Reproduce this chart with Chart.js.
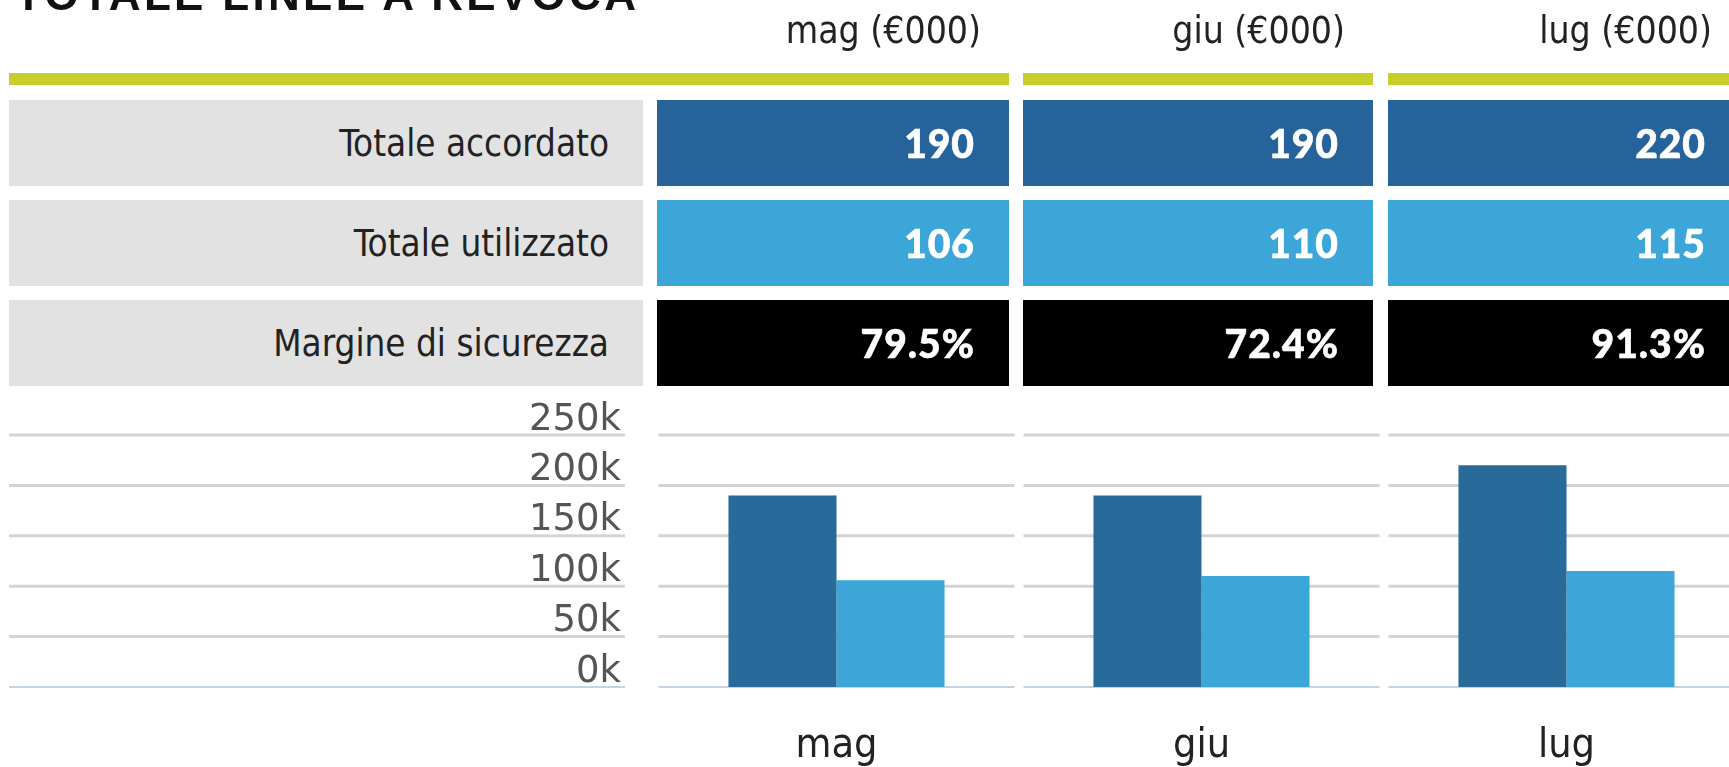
<!DOCTYPE html>
<html>
<head>
<meta charset="utf-8">
<script src="https://cdn.jsdelivr.net/npm/chart.js@4.4.1/dist/chart.umd.min.js"></script>
<style>
  html, body { margin:0; padding:0; background:#ffffff; }
  body { width:1729px; height:767px; overflow:hidden; position:relative; }
  #chartWrap { position:absolute; left:0; top:0; width:1760px; height:767px; }
  .abs { position:absolute; box-sizing:border-box; }
  #title { left:15px; top:-27px; font-family:"Liberation Sans", Arial, sans-serif; font-weight:bold;
           font-size:44px; line-height:44px; letter-spacing:3.3px; color:#111; white-space:nowrap; }
  .hdr { font-family:"DejaVu Sans Condensed","DejaVu Sans",sans-serif; font-size:37px; color:#222;
         text-align:right; padding-right:28px; height:44px; line-height:44px; top:9px; white-space:nowrap; }
  .green { background:#c6cf2c; top:73px; height:12px; }
  .cell { display:flex; align-items:center; justify-content:flex-end; padding-right:34px; height:86px; white-space:nowrap; }
  .lab { background:#e2e2e2; font-family:"DejaVu Sans Condensed","DejaVu Sans",sans-serif; font-size:36.5px; color:#222; }
  .val { font-family:"Lato", sans-serif; font-weight:900; font-size:39px; color:#ffffff;
         letter-spacing:1px; -webkit-text-stroke:0.6px #ffffff; }
</style>
</head>
<body>
<div id="chartWrap"><canvas id="c" width="1760" height="767"></canvas></div>
<div id="title" class="abs">TOTALE LINEE A REVOCA</div>
<div id="table"></div>
<script>
// ---- data ----
const categories = ['mag', 'giu', 'lug'];
const headerSuffix = ' (€000)';
const rowLabels = ['Totale accordato', 'Totale utilizzato', 'Margine di sicurezza'];
const totaleAccordato = [190, 190, 220];      // €000
const totaleUtilizzato = [106, 110, 115];     // €000
const margineSicurezza = [79.5, 72.4, 91.3];  // %
const yTicksMin = 0;
const yTicksMax = 250000;
const yTickStep = 50000;

// ---- table (HTML) ----
const colLeft = [657, 1023, 1388];
const colWidth = [352, 350, 352];
const rowTop = [100, 200, 300];
const rowColors = ['#26639b', '#3ca6d8', '#000000'];
const rowValues = [
  totaleAccordato.map(v => String(v)),
  totaleUtilizzato.map(v => String(v)),
  margineSicurezza.map(v => v.toFixed(1) + '%')
];
const table = document.getElementById('table');
function add(cls, style, text) {
  const d = document.createElement('div');
  d.className = 'abs ' + cls;
  Object.assign(d.style, style);
  if (text !== undefined) d.textContent = text;
  table.appendChild(d);
  return d;
}
categories.forEach((c, i) => {
  add('hdr', { left: colLeft[i] + 'px', width: colWidth[i] + 'px' }, c + headerSuffix);
});
add('green', { left: '9px', width: (colLeft[0] + colWidth[0] - 9) + 'px' });
add('green', { left: colLeft[1] + 'px', width: colWidth[1] + 'px' });
add('green', { left: colLeft[2] + 'px', width: colWidth[2] + 'px' });
rowLabels.forEach((lab, r) => {
  add('cell lab', { left: '9px', top: rowTop[r] + 'px', width: '634px' }, lab);
  categories.forEach((c, i) => {
    add('cell val', { left: colLeft[i] + 'px', top: rowTop[r] + 'px', width: colWidth[i] + 'px', background: rowColors[r] }, rowValues[r][i]);
  });
});

// ---- chart ----
const segGrid = {
  id: 'segGrid',
  beforeDatasetsDraw(chart) {
    const ctx = chart.ctx, ys = chart.scales.y, xs = chart.scales.x;
    const half = (xs.getPixelForValue(1) - xs.getPixelForValue(0)) / 2;
    ctx.save();
    ys.ticks.forEach(t => {
      const y = ys.getPixelForValue(t.value);
      const zero = t.value === 0;
      ctx.strokeStyle = zero ? '#c5d3e4' : '#d4d4d4';
      ctx.lineWidth = zero ? 2 : 3;
      const segs = [[9, 625]];
      categories.forEach((c, i) => {
        const cx = xs.getPixelForValue(i);
        segs.push([cx - half + 4.5, cx + half - 4.5]);
      });
      segs.forEach(s => {
        ctx.beginPath();
        ctx.moveTo(s[0], y);
        ctx.lineTo(s[1], y);
        ctx.stroke();
      });
    });
    ctx.restore();
  }
};

new Chart(document.getElementById('c'), {
  type: 'bar',
  data: {
    labels: categories,
    datasets: [
      { label: 'Totale accordato', data: totaleAccordato.map(v => v * 1000), backgroundColor: '#286b9b',
        categoryPercentage: 0.592, barPercentage: 1.0 },
      { label: 'Totale utilizzato', data: totaleUtilizzato.map(v => v * 1000), backgroundColor: '#3ca6d8',
        categoryPercentage: 0.592, barPercentage: 1.0 }
    ]
  },
  options: {
    responsive: false,
    animation: false,
    devicePixelRatio: 1,
    layout: { padding: { left: 0, top: 435, right: 11, bottom: 0 } },
    plugins: { legend: { display: false }, tooltip: { enabled: false } },
    scales: {
      x: {
        grid: { display: false, drawTicks: false },
        border: { display: false },
        ticks: { color: '#222', padding: 35,
                 font: { family: '"DejaVu Sans Condensed", "DejaVu Sans", sans-serif', size: 41 } },
        afterFit(s) { s.height = 80; }
      },
      y: {
        min: yTicksMin, max: yTicksMax,
        grid: { display: false, drawTicks: false },
        border: { display: false },
        ticks: { stepSize: yTickStep, autoSkip: false, color: '#555', padding: 33, labelOffset: -15,
                 font: { family: '"DejaVu Sans", sans-serif', size: 37 },
                 callback: v => (v / 1000) + 'k' },
        afterFit(s) { s.width = 654; }
      }
    }
  },
  plugins: [segGrid]
});
</script>
</body>
</html>
